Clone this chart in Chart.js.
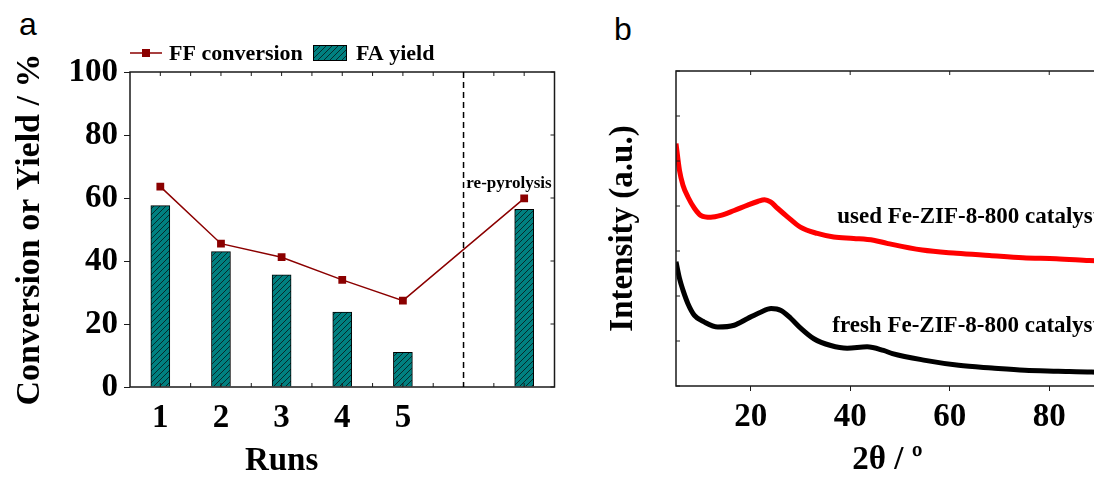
<!DOCTYPE html>
<html>
<head>
<meta charset="utf-8">
<script src="https://cdn.jsdelivr.net/npm/chart.js@4"></script>
<style>
  html, body { margin: 0; padding: 0; background: #fff; width: 1094px; height: 477px; overflow: hidden; }
  canvas { position: absolute; top: 0; }
  #runsChart { left: 0; }
  #xrdChart { left: 560px; }
  .tag {
    position: absolute;
    font-family: 'Liberation Sans', Arial, sans-serif;
    font-size: 32px;
    line-height: 1;
    color: #000;
  }
</style>
</head>
<body>
<div class="tag" style="left:19px; top:8px;">a</div>
<div class="tag" style="left:614px; top:13px;">b</div>
<canvas id="runsChart" width="560" height="477"></canvas>
<canvas id="xrdChart" width="560" height="477"></canvas>
<script>
// recycling runs (index 5 is the gap before the re-pyrolysed sample)
const runLabels = ['1', '2', '3', '4', '5', '', ''];
const ffConversion = [63.6, 45.5, 41.2, 34.0, 27.4, null, 59.9];
const faYield = [57.6, 43.0, 35.6, 23.8, 11.0, null, 56.4];

// XRD patterns, 2theta in degrees vs. intensity (a.u.)
const usedTheta = [5.0, 5.7, 6.4, 7.4, 8.7, 10, 12, 14, 16.7, 19.4, 21.4, 22.8, 24, 25.4, 27.4, 30, 33.4, 36.7, 40.7, 44.7, 47.4, 54.5, 61.4, 68, 74.7, 81.4, 88, 90];
const usedIntensity = [5.39, 4.79, 4.46, 4.20, 3.95, 3.79, 3.75, 3.79, 3.90, 4.02, 4.10, 4.14, 4.09, 3.95, 3.76, 3.53, 3.39, 3.31, 3.28, 3.24, 3.17, 3.02, 2.95, 2.90, 2.85, 2.83, 2.79, 2.78];
const freshTheta = [5.0, 5.7, 6.4, 7.4, 8.7, 10.7, 13.4, 16.7, 19.4, 22, 24.1, 26.1, 28.1, 30.1, 32.7, 36.1, 39.4, 43.4, 46.7, 48.5, 55.1, 61.8, 68.5, 75.1, 81.8, 88.5, 90];
const freshIntensity = [2.76, 2.39, 2.13, 1.83, 1.57, 1.42, 1.31, 1.35, 1.50, 1.64, 1.72, 1.68, 1.50, 1.28, 1.05, 0.90, 0.84, 0.87, 0.79, 0.72, 0.57, 0.46, 0.40, 0.35, 0.33, 0.31, 0.30];
const thetaTicks = [20, 40, 60, 80];

const SERIF = "'Liberation Serif', 'Times New Roman', serif";
const INK = '#1a1a1a';
const DARK_RED = '#8b0000';
const TEAL = '#008080';

function hatchPattern(fill) {
  const c = document.createElement('canvas');
  c.width = 6; c.height = 6;
  const g = c.getContext('2d');
  g.fillStyle = fill;
  g.fillRect(0, 0, 6, 6);
  g.strokeStyle = '#062b2b';
  g.lineWidth = 1;
  g.beginPath();
  g.moveTo(0, 6); g.lineTo(6, 0);
  g.moveTo(-1, 1); g.lineTo(1, -1);
  g.moveTo(5, 7); g.lineTo(7, 5);
  g.stroke();
  return g.createPattern(c, 'repeat');
}

const runsCtx = document.getElementById('runsChart').getContext('2d');
const hatch = hatchPattern(TEAL);

// frame, inward ticks, divider, axis title and legend for the runs panel
const runsDecor = {
  id: 'runsDecor',
  afterDraw(chart) {
    const { ctx, chartArea: a, scales: { x, y } } = chart;
    ctx.save();
    ctx.strokeStyle = INK;
    ctx.lineWidth = 1.5;
    ctx.strokeRect(a.left, a.top, a.right - a.left, a.bottom - a.top);

    ctx.lineWidth = 1;
    ctx.beginPath();
    for (let v = 0; v < runLabels.length; v += 0.5) {
      const px = x.getPixelForValue(v);
      ctx.moveTo(px, a.top); ctx.lineTo(px, a.top + 4);
      ctx.moveTo(px, a.bottom); ctx.lineTo(px, a.bottom - 4);
    }
    y.ticks.forEach(t => {
      const py = y.getPixelForValue(t.value);
      ctx.moveTo(a.right, py); ctx.lineTo(a.right - 4, py);
    });
    ctx.stroke();

    // divider before the re-pyrolysed sample
    const dx = x.getPixelForValue(5);
    ctx.setLineDash([6, 4]);
    ctx.lineWidth = 1.5;
    ctx.strokeStyle = '#000';
    ctx.beginPath();
    ctx.moveTo(dx, a.top); ctx.lineTo(dx, a.bottom);
    ctx.stroke();
    ctx.setLineDash([]);

    ctx.fillStyle = '#000';
    ctx.font = `bold 17px ${SERIF}`;
    ctx.textAlign = 'center';
    ctx.textBaseline = 'middle';
    ctx.fillText('re-pyrolysis', (dx + a.right) / 2, y.getPixelForValue(64.5));

    // x title sits under the five regular runs
    ctx.font = `bold 33px ${SERIF}`;
    ctx.fillText('Runs', (x.getPixelForValue(0) + x.getPixelForValue(4)) / 2, a.bottom + 74);

    // legend
    const ly = a.top - 19;
    const lx = a.left;
    ctx.strokeStyle = DARK_RED;
    ctx.lineWidth = 1.5;
    ctx.beginPath();
    ctx.moveTo(lx, ly); ctx.lineTo(lx + 32, ly);
    ctx.stroke();
    ctx.fillStyle = DARK_RED;
    ctx.fillRect(lx + 12, ly - 4, 8, 8);

    ctx.font = `bold 22px ${SERIF}`;
    ctx.textAlign = 'left';
    ctx.fillStyle = '#000';
    ctx.fillText(chart.data.datasets[0].label, lx + 39, ly + 1);

    ctx.fillStyle = hatch;
    ctx.fillRect(lx + 183, ly - 8, 34, 16);
    ctx.lineWidth = 1;
    ctx.strokeStyle = '#000';
    ctx.strokeRect(lx + 183.5, ly - 7.5, 33, 15);
    ctx.fillStyle = '#000';
    ctx.fillText(chart.data.datasets[1].label, lx + 226, ly + 1);
    ctx.restore();
  }
};

new Chart(runsCtx, {
  type: 'bar',
  data: {
    labels: runLabels,
    datasets: [
      {
        type: 'line',
        label: 'FF conversion',
        data: ffConversion,
        borderColor: DARK_RED,
        backgroundColor: DARK_RED,
        borderWidth: 1.5,
        pointStyle: 'rect',
        pointRadius: 5.5,
        pointBorderWidth: 0,
        spanGaps: true,
        tension: 0
      },
      {
        label: 'FA yield',
        data: faYield,
        backgroundColor: hatch,
        borderColor: '#000',
        borderWidth: 1,
        barThickness: 19
      }
    ]
  },
  options: {
    responsive: false,
    animation: false,
    layout: { padding: { top: 72, right: 5, bottom: 0, left: 0 } },
    plugins: { legend: { display: false }, tooltip: { enabled: false } },
    scales: {
      x: {
        grid: { display: false },
        border: { display: false },
        ticks: { color: '#000', padding: 4, font: { family: SERIF, size: 33, weight: 'bold' } },
        afterFit: s => { s.height = 90; }
      },
      y: {
        min: 0, max: 100,
        grid: { drawOnChartArea: false, tickLength: 6, color: INK },
        border: { display: false },
        ticks: {
          stepSize: 10, padding: 6, color: '#000',
          font: { family: SERIF, size: 33, weight: 'bold' },
          callback: v => (v % 20 === 0 ? v : '')
        },
        title: {
          display: true, text: 'Conversion or Yield / %', color: '#000',
          padding: { top: 10, bottom: 0 },
          font: { family: SERIF, size: 34, weight: 'bold', lineHeight: 1.2 }
        },
        afterFit: s => { s.width = 130; }
      }
    }
  },
  plugins: [runsDecor]
});

// XRD panel
const xrdCtx = document.getElementById('xrdChart').getContext('2d');

const xrdDecor = {
  id: 'xrdDecor',
  afterDraw(chart) {
    const { ctx, chartArea: a, scales: { x, y } } = chart;
    ctx.save();
    ctx.strokeStyle = INK;
    ctx.lineWidth = 1.5;
    ctx.strokeRect(a.left, a.top, a.right - a.left, a.bottom - a.top);
    ctx.lineWidth = 1;
    ctx.beginPath();
    y.ticks.forEach(t => {
      const py = y.getPixelForValue(t.value);
      ctx.moveTo(a.left, py); ctx.lineTo(a.left + 4, py);
    });
    thetaTicks.forEach(v => {
      const px = x.getPixelForValue(v);
      ctx.moveTo(px, a.top); ctx.lineTo(px, a.top + 4);
    });
    ctx.stroke();

    ctx.fillStyle = '#000';
    ctx.font = `bold 23px ${SERIF}`;
    ctx.textBaseline = 'alphabetic';
    ctx.fillText('used Fe-ZIF-8-800 catalyst', x.getPixelForValue(37.4), y.getPixelForValue(3.62));
    ctx.fillText('fresh Fe-ZIF-8-800 catalyst', x.getPixelForValue(36.4), y.getPixelForValue(1.2));
    ctx.restore();
  }
};

new Chart(xrdCtx, {
  type: 'line',
  data: {
    datasets: [
      {
        label: 'used Fe-ZIF-8-800 catalyst',
        data: usedTheta.map((t, i) => ({ x: t, y: usedIntensity[i] })),
        borderColor: '#ff0000',
        borderWidth: 5,
        pointRadius: 0,
        cubicInterpolationMode: 'monotone'
      },
      {
        label: 'fresh Fe-ZIF-8-800 catalyst',
        data: freshTheta.map((t, i) => ({ x: t, y: freshIntensity[i] })),
        borderColor: '#000',
        borderWidth: 5,
        pointRadius: 0,
        cubicInterpolationMode: 'monotone'
      }
    ]
  },
  options: {
    responsive: false,
    animation: false,
    layout: { padding: { top: 71, right: 21, bottom: 0, left: 0 } },
    plugins: { legend: { display: false }, tooltip: { enabled: false } },
    scales: {
      x: {
        type: 'linear',
        min: 5, max: 90,
        afterBuildTicks: s => { s.ticks = thetaTicks.map(v => ({ value: v })); },
        grid: { drawOnChartArea: false, tickLength: 5, color: INK },
        border: { display: false },
        ticks: { color: '#000', padding: 7, font: { family: SERIF, size: 33, weight: 'bold' } },
        title: {
          display: true, text: '2θ / º', color: '#000',
          padding: { top: 0, bottom: 0 },
          font: { family: SERIF, size: 33, weight: 'bold', lineHeight: 1 }
        },
        afterFit: s => { s.height = 91; }
      },
      y: {
        min: 0, max: 7,
        grid: { display: false },
        border: { display: false },
        ticks: { display: false, stepSize: 1 },
        title: {
          display: true, text: 'Intensity (a.u.)', color: '#000',
          padding: { top: 44, bottom: 0 },
          font: { family: SERIF, size: 33, weight: 'bold', lineHeight: 1.2 }
        },
        afterFit: s => { s.width = 116; }
      }
    }
  },
  plugins: [xrdDecor]
});
</script>
</body>
</html>
